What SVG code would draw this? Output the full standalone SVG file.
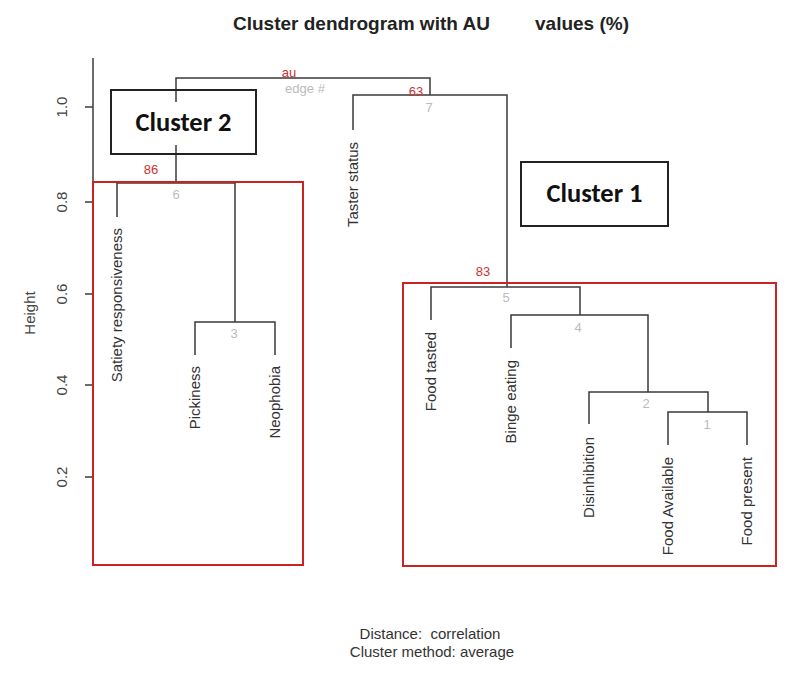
<svg xmlns="http://www.w3.org/2000/svg" width="800" height="676" viewBox="0 0 800 676">
<style>
.ln{fill:none;stroke:#3a3a3a;stroke-width:1.5}
.lab{font-family:"Liberation Sans",Arial,sans-serif;font-size:15px;fill:#333}
.tick{font-family:"Liberation Sans",Arial,sans-serif;font-size:15px;fill:#444}
.au{font-family:"Liberation Sans",Arial,sans-serif;font-size:13px;fill:#cc3333}
.edge{font-family:"Liberation Sans",Arial,sans-serif;font-size:13px;fill:#bbbbbb}
.cl{font-family:Carlito,Calibri,"Open Sans","Liberation Sans",sans-serif;font-size:26.5px;font-weight:bold;fill:#111}
.red{fill:none;stroke:#cc2222;stroke-width:2}
.box{fill:none;stroke:#222;stroke-width:2}
</style>
<rect width="800" height="676" fill="#fff"/>
<text x="233" y="30" font-family="Liberation Sans,Arial,sans-serif" font-size="19" font-weight="bold" fill="#222">Cluster dendrogram with AU</text>
<text x="535" y="30" font-family="Liberation Sans,Arial,sans-serif" font-size="19" font-weight="bold" fill="#222">values (%)</text>
<g id="axis">
<line class="ln" x1="93" y1="58" x2="93" y2="477"/>
<line class="ln" x1="85" y1="107" x2="93" y2="107"/>
<line class="ln" x1="85" y1="202" x2="93" y2="202"/>
<line class="ln" x1="85" y1="294" x2="93" y2="294"/>
<line class="ln" x1="85" y1="385" x2="93" y2="385"/>
<line class="ln" x1="85" y1="477" x2="93" y2="477"/>
<text class="tick" text-anchor="middle" transform="translate(67,107) rotate(-90)">1.0</text>
<text class="tick" text-anchor="middle" transform="translate(67,202) rotate(-90)">0.8</text>
<text class="tick" text-anchor="middle" transform="translate(67,294) rotate(-90)">0.6</text>
<text class="tick" text-anchor="middle" transform="translate(67,385) rotate(-90)">0.4</text>
<text class="tick" text-anchor="middle" transform="translate(67,477) rotate(-90)">0.2</text>
<text class="tick" text-anchor="middle" transform="translate(35,313) rotate(-90)">Height</text>
</g>
<g id="connectors">
<path class="ln" d="M176 102V78H430V95"/>
<path class="ln" d="M176 145V183"/>
<path class="ln" d="M353 130V95H507V287"/>
<path class="ln" d="M117 217V183H235V322"/>
<path class="ln" d="M195 355V322H275V355"/>
<path class="ln" d="M431 320V287H580V315"/>
<path class="ln" d="M511 348V315H648V392"/>
<path class="ln" d="M589 424V392H708V412"/>
<path class="ln" d="M668 445V412H747V445"/>
</g>
<g id="node-root"><text class="au" x="289" y="77" text-anchor="middle">au</text><text class="edge" x="305" y="93" text-anchor="middle">edge #</text></g>
<g id="node-7"><text class="au" x="416" y="96" text-anchor="middle">63</text><text class="edge" x="429" y="112" text-anchor="middle">7</text></g>
<g id="node-6"><text class="au" x="151" y="174" text-anchor="middle">86</text><text class="edge" x="176" y="199" text-anchor="middle">6</text></g>
<g id="node-3"><text class="edge" x="234" y="338" text-anchor="middle">3</text></g>
<g id="node-5"><text class="au" x="483" y="276" text-anchor="middle">83</text><text class="edge" x="506" y="302" text-anchor="middle">5</text></g>
<g id="node-4"><text class="edge" x="578" y="332" text-anchor="middle">4</text></g>
<g id="node-2"><text class="edge" x="646" y="408" text-anchor="middle">2</text></g>
<g id="node-1"><text class="edge" x="707" y="429" text-anchor="middle">1</text></g>
<g id="leaf-taster"><text class="lab" text-anchor="end" transform="translate(358,142) rotate(-90)">Taster status</text></g>
<g id="leaf-satiety"><text class="lab" text-anchor="end" transform="translate(122,228) rotate(-90)">Satiety responsiveness</text></g>
<g id="leaf-pickiness"><text class="lab" text-anchor="end" transform="translate(200,366) rotate(-90)">Pickiness</text></g>
<g id="leaf-neophobia"><text class="lab" text-anchor="end" transform="translate(280,366) rotate(-90)">Neophobia</text></g>
<g id="leaf-foodtasted"><text class="lab" text-anchor="end" transform="translate(436,332) rotate(-90)">Food tasted</text></g>
<g id="leaf-binge"><text class="lab" text-anchor="end" transform="translate(516,360) rotate(-90)">Binge eating</text></g>
<g id="leaf-disinhibition"><text class="lab" text-anchor="end" transform="translate(594,437) rotate(-90)">Disinhibition</text></g>
<g id="leaf-foodavailable"><text class="lab" text-anchor="end" transform="translate(673,457) rotate(-90)">Food Available</text></g>
<g id="leaf-foodpresent"><text class="lab" text-anchor="end" transform="translate(752,457) rotate(-90)">Food present</text></g>
<g id="cluster2-box"><rect class="red" x="93" y="182" width="210" height="383"/></g>
<g id="cluster1-box"><rect class="red" x="403" y="283" width="373" height="283"/></g>
<g id="cluster2-label"><rect class="box" x="111" y="90" width="145" height="64"/><text class="cl" x="183.5" y="131" text-anchor="middle">Cluster 2</text></g>
<g id="cluster1-label"><rect class="box" x="521" y="162" width="147" height="64"/><text class="cl" x="594.5" y="202" text-anchor="middle">Cluster 1</text></g>
<text class="lab" x="430" y="639" text-anchor="middle">Distance:&#160; correlation</text>
<text class="lab" x="432" y="657" text-anchor="middle">Cluster method: average</text>
</svg>
